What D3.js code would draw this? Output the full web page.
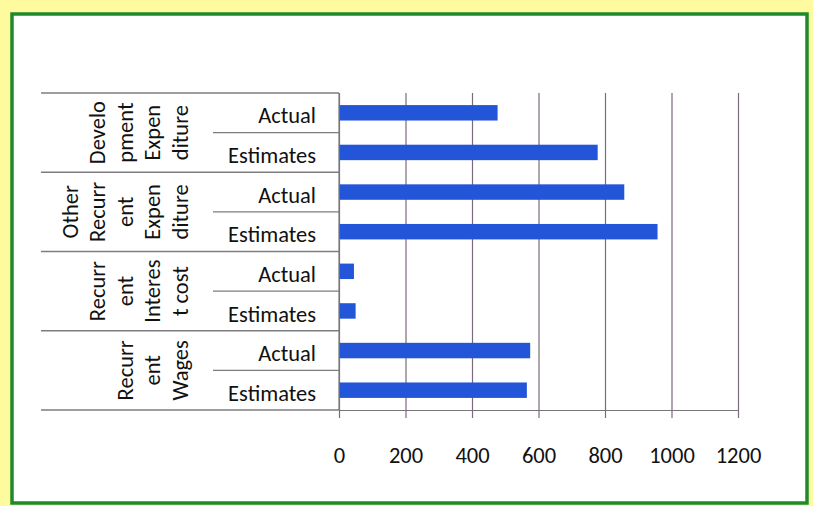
<!DOCTYPE html>
<html><head><meta charset="utf-8">
<script src="https://cdn.jsdelivr.net/npm/d3@7"></script>
<style>html,body{margin:0;padding:0;background:#fdfb9e;}svg{display:block;}</style>
</head><body><svg id="c" width="813" height="506"></svg>
<script>
// ---- data ----
const groups = ["Development Expenditure","Other Recurrent Expenditure","Recurrent Interest cost","Recurrent Wages"];
const groupLabelLines = [
  ["Develo","pment","Expen","diture"],
  ["Other","Recurr","ent","Expen","diture"],
  ["Recurr","ent","Interes","t cost"],
  ["Recurr","ent","Wages"]
];
const subCategories = ["Actual","Estimates"];
const actualValues   = [477, 858, 45, 575];
const estimateValues = [778, 958, 50, 565];
const xTicks = [0,200,400,600,800,1000,1200];

(function(){
const svg = d3.select("#c");
const FONT = "Carlito, Calibri, Lato, 'Open Sans', sans-serif";
const FS = "22.5px";
svg.append("rect").attr("x",12).attr("y",14).attr("width",795).attr("height",489)
  .attr("fill","#ffffff").attr("stroke","#1f8a2c").attr("stroke-width",3.5);

const rows = [];
groups.forEach((g,i)=>{
  rows.push({group:g, gi:i, sub:subCategories[0], value:actualValues[i]});
  rows.push({group:g, gi:i, sub:subCategories[1], value:estimateValues[i]});
});
rows.forEach((r,i)=>r.key=i);

const yTop = 93, yBot = 410, x0 = 339, x1 = 738;
const x = d3.scaleLinear().domain([0,1200]).range([x0,x1]);
const y = d3.scaleBand().domain(rows.map(r=>r.key)).range([yTop,yBot]).paddingInner(0.61).paddingOuter(0.305);
const step = y.step();

// gridlines
svg.append("g").attr("transform",`translate(0,${yBot})`)
  .call(d3.axisBottom(x).tickValues(xTicks).tickSize(-(yBot-yTop)).tickFormat(""))
  .call(g=>g.select(".domain").remove())
  .call(g=>g.selectAll("line").attr("stroke","#7a6a7c").attr("stroke-width",1.2));

// bars
svg.append("g").selectAll("rect").data(rows).join("rect")
  .attr("x",x(0)).attr("y",d=>y(d.key)).attr("height",y.bandwidth())
  .attr("width",d=>x(d.value)-x(0)).attr("fill","#2355d8");

// bottom axis
svg.append("g").attr("transform",`translate(0,${yBot})`)
  .call(d3.axisBottom(x).tickValues(xTicks).tickFormat(d3.format("d")).tickSize(8).tickPadding(29).tickSizeOuter(0))
  .call(g=>g.select(".domain").attr("stroke","#777").attr("stroke-width",1.2))
  .call(g=>g.selectAll("line").attr("stroke","#7a6a7c").attr("stroke-width",1.2))
  .call(g=>g.selectAll("text").attr("fill","#111").style("font-family",FONT).style("font-size",FS));

// left category area
const catG = svg.append("g");
const lineCol = "#7d7d80";
catG.append("line").attr("x1",x0).attr("x2",x0).attr("y1",yTop).attr("y2",yBot).attr("stroke",lineCol).attr("stroke-width",1.2);
const groupEdges = [0,2,4,6,8].map(i=> yTop + i*step);
catG.selectAll("line.gsep").data(groupEdges).join("line").attr("class","gsep")
  .attr("x1",41).attr("x2",x0).attr("y1",d=>d).attr("y2",d=>d)
  .attr("stroke",lineCol).attr("stroke-width",1.3);
const subEdges = [1,3,5,7].map(i=> yTop + i*step);
catG.selectAll("line.ssep").data(subEdges).join("line").attr("class","ssep")
  .attr("x1",213).attr("x2",x0).attr("y1",d=>d).attr("y2",d=>d)
  .attr("stroke",lineCol).attr("stroke-width",1.3);

catG.selectAll("text.sub").data(rows).join("text").attr("class","sub")
  .attr("x",316).attr("y",d=>y(d.key)+y.bandwidth()/2).attr("dy","0.47em")
  .attr("text-anchor","end").attr("fill","#111")
  .style("font-family",FONT).style("font-size",FS).text(d=>d.sub);

groupLabelLines.forEach((lines,gi)=>{
  const cy = yTop + (gi*2+1)*step;
  const n = lines.length;
  lines.forEach((ln,li)=>{
    const cx = 180 - (n-1-li)*27.5;
    catG.append("text")
      .attr("transform",`translate(${cx},${cy}) rotate(-90)`)
      .attr("text-anchor","middle").attr("dy","0.35em").attr("fill","#111")
      .style("font-family",FONT).style("font-size",FS).text(ln);
  });
});
})();
</script></body></html>
